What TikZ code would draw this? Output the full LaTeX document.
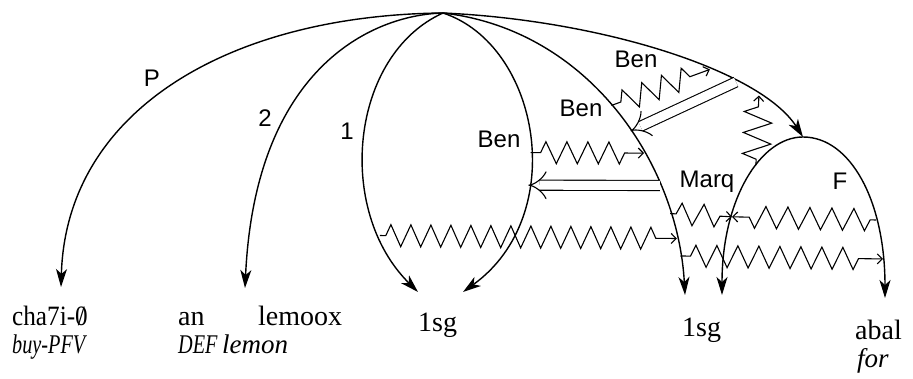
\documentclass[tikz,border=0pt]{standalone}
\usepackage{fontspec}
\setmainfont{Liberation Serif}
\newfontfamily\lblfont{Liberation Sans}
\newfontfamily\condroman[FakeStretch=0.9]{Liberation Serif}
\newfontfamily\condital[FakeStretch=0.75]{Liberation Serif}
\usetikzlibrary{arrows.meta,decorations.pathmorphing}
\newcommand\nullzero{\ooalign{0\cr\hidewidth/\hidewidth\cr}}
\begin{document}
\begin{tikzpicture}[x=1pt,y=-1pt,
  arc/.style={line width=1.4pt,-{Stealth[length=18pt,width=11pt,inset=5pt]}},
  zig/.style={line width=1.1pt,-{Straight Barb[length=5pt,width=10pt]},decorate,
    decoration={zigzag,segment length=21pt,amplitude=11pt,pre length=10pt,post length=14pt}},
  dbl/.style={line width=1.1pt,double,double distance=9pt,-{Implies}},
  lbl/.style={font=\lblfont\fontsize{24}{26}\selectfont,inner sep=0pt,anchor=base},
  word/.style={font=\fontsize{28}{30}\selectfont,inner sep=0pt,anchor=base west},
  gloss/.style={font=\itshape\fontsize{27}{29}\selectfont,inner sep=0pt,anchor=base west}]
\useasboundingbox (0,0) rectangle (913,379);
% end points
\coordinate (apex) at (443,13);
\coordinate (tP) at (61,287);
\coordinate (t2) at (245,288);
\coordinate (t1) at (418,292);
\coordinate (tL) at (463,292);
\coordinate (tM) at (685,295);
\coordinate (Ftop) at (803,137);
\coordinate (tFL) at (722,295);
\coordinate (tFR) at (885,298);
% main arcs
\draw[arc] (apex) .. controls (230,15) and (66,110) .. (tP);
\draw[arc] (apex) .. controls (370,15) and (255,70) .. (t2);
\draw[arc] (apex) .. controls (350,55) and (335,210) .. (t1) coordinate[pos=0.8] (A80);
\draw[arc] (apex) .. controls (540,45) and (570,215) .. (tL) coordinate[pos=0.55] (L55) coordinate[pos=0.645] (L645);
\draw[arc] (apex) .. controls (590,30) and (678,165) .. (tM) coordinate[pos=0.48] (M48) coordinate[pos=0.56] (M56) coordinate[pos=0.625] (M625) coordinate[pos=0.715] (M715) coordinate[pos=0.79] (M79) coordinate[pos=0.855] (M855) coordinate[pos=0.9] (M90);
\draw[arc] (apex) .. controls (600,20) and (760,70) .. (Ftop) coordinate[pos=0.62] (O62) coordinate[pos=0.7] (O70) coordinate[pos=0.78] (O78);
\draw[arc] (Ftop) .. controls (760,137) and (722,200) .. (tFL) coordinate[pos=0.4] (FL40) coordinate[pos=0.69] (FL69);
\draw[arc] (Ftop) .. controls (850,137) and (885,200) .. (tFR) coordinate[pos=0.7] (FR70) coordinate[pos=0.86] (FR86);
% zigzag connectors
\draw[zig] (L55) -- (M625);
\draw[zig] (M48) -- (O62);
\draw[zig,decoration={segment length=21pt,amplitude=14pt,pre length=6pt,post length=8pt}] (FL40) -- (O78);
\draw[zig,decoration={segment length=20pt,pre length=6pt,post length=14pt}] (A80) -- (M855);
\draw[zig,decoration={segment length=22pt,pre length=6pt,post length=10pt}] (M79) -- (FL69);
\draw[zig,decoration={segment length=22pt,pre length=6pt,post length=12pt}] (FR70) -- (FL69);
\draw[zig,decoration={pre length=10pt,post length=18pt}] (M90) -- (FR86);
% double arrows
\draw[dbl] (O70) -- (M56);
\draw[dbl] (M715) -- (L645);
% arc labels
\node[lbl] (lP) at (152,87) {P};
\node[lbl] (l2) at (265,127) {2};
\node[lbl] (l1) at (347,140) {1};
\node[lbl] (lB1) at (499,148) {Ben};
\node[lbl] (lB2) at (581,117) {Ben};
\node[lbl] (lB3) at (636,68) {Ben};
\node[lbl] (lM) at (707,188) {Marq};
\node[lbl] (lF) at (840,190) {F};
% words and glosses
\node[word] (w1) at (12,326) {\condroman cha7i-\nullzero};
\node[gloss] (g1) at (12,353) {\condital\itshape buy-PFV};
\node[word] (w2) at (178,326) {an};
\node[gloss] (g2) at (178,353) {\condital\itshape DEF};
\node[word] (w3) at (258,326) {lemoox};
\node[gloss] (g3) at (222,353) {lemon};
\node[word] (w4) at (418,331) {1sg};
\node[word] (w5) at (682,337) {1sg};
\node[word] (w6) at (855,339) {abal};
\node[gloss] (g6) at (857,367) {for};
\end{tikzpicture}
\end{document}
